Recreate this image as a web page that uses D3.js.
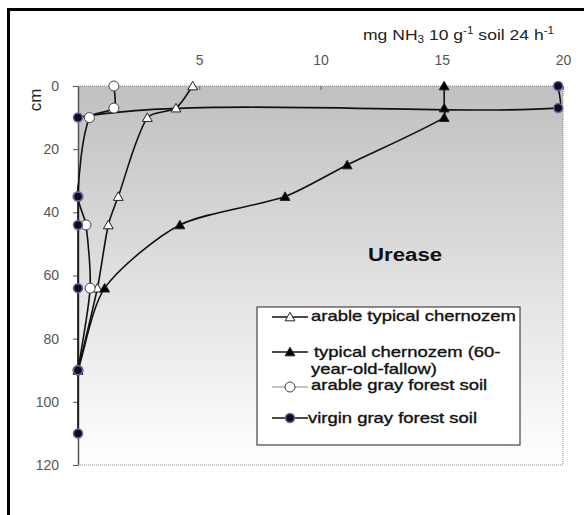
<!DOCTYPE html>
<html>
<head>
<meta charset="utf-8">
<script src="https://cdn.jsdelivr.net/npm/d3@7"></script>
<style>
  body { margin: 0; background: #fff; }
  svg text { font-family: Arial, "Liberation Sans", sans-serif; }
</style>
</head>
<body>
<div id="chart"></div>
<script>
// values (x = mg NH3, y = depth in cm)
const arableChernozemDepth = [0, 7, 10, 35, 44, 64, 90]
const arableChernozem = [4.73, 4.04, 2.86, 1.66, 1.25, 0.8, 0]
const fallowChernozemDepth = [0, 7, 10, 25, 35, 44, 64, 90]
const fallowChernozem = [15.1, 15.1, 15.1, 11.1, 8.54, 4.2, 1.1, 0]
const arableGrayDepth = [0, 7, 10, 35, 44, 64, 90]
const arableGray = [1.48, 1.48, 0.47, 0, 0.33, 0.5, 0]
const virginGrayDepth = [0, 7, 10, 35, 44, 64, 90, 110]
const virginGray = [19.8, 19.8, 0, 0, 0, 0, 0, 0]

const xTicks = [5, 10, 15, 20]
const yTicks = [0, 20, 40, 60, 80, 100, 120]
const legendNames = ["arable typical chernozem", " typical chernozem (60-", "arable gray forest soil", "virgin gray forest soil"]

const width = 586, height = 515
const plotLeft = 78, plotRight = 563, plotTop = 86, plotBottom = 465
const sx = 1.17 // the source picture is stretched sideways

const x = d3.scaleLinear().domain([0, 20]).range([plotLeft, plotRight])
const y = d3.scaleLinear().domain([0, 120]).range([plotTop, plotBottom])

const svg = d3.select("#chart").append("svg")
  .attr("width", width)
  .attr("height", height)

const defs = svg.append("defs")
const grad = defs.append("linearGradient")
  .attr("id", "bg").attr("x1", 0).attr("y1", 0).attr("x2", 0).attr("y2", 1)
grad.append("stop").attr("offset", "0%").attr("stop-color", "#c0c0c0")
grad.append("stop").attr("offset", "100%").attr("stop-color", "#ffffff")
defs.append("clipPath").attr("id", "plotClip")
  .append("rect")
  .attr("x", plotLeft - 1).attr("y", plotTop - 10)
  .attr("width", plotRight - plotLeft + 12).attr("height", plotBottom - plotTop + 20)

svg.append("rect")
  .attr("x", plotLeft).attr("y", plotTop)
  .attr("width", plotRight - plotLeft).attr("height", plotBottom - plotTop)
  .attr("fill", "url(#bg)")

// dotted frame on top, right and bottom
svg.append("path")
  .attr("d", `M${plotLeft},${plotTop}H${plotRight}V${plotBottom}H${plotLeft}`)
  .attr("fill", "none")
  .attr("stroke", "#8c8c8c")
  .attr("stroke-dasharray", "1,1")

// outer border (only top and left are visible)
svg.append("path")
  .attr("d", "M8.5,515V9.5H584")
  .attr("fill", "none")
  .attr("stroke", "#000")
  .attr("stroke-width", 3)

const xAxis = d3.axisTop(x)
  .tickValues(xTicks)
  .tickSizeInner(-4)
  .tickSizeOuter(0)
  .tickPadding(21)
const gx = svg.append("g")
  .attr("transform", "translate(0," + plotTop + ")")
  .call(xAxis)
gx.select(".domain").remove()
gx.selectAll("line").attr("stroke", "#666")
gx.selectAll("text").attr("font-size", 14).attr("fill", "#555").attr("font-family", null)

const yAxis = d3.axisLeft(y)
  .tickValues(yTicks)
  .tickSizeInner(5)
  .tickSizeOuter(0)
  .tickPadding(14)
const gy = svg.append("g")
  .attr("transform", "translate(" + plotLeft + ",0)")
  .call(yAxis)
gy.select(".domain").attr("stroke", "#555").attr("stroke-width", 1.5)
gy.selectAll("line").attr("stroke", "#555")
gy.selectAll("text").attr("font-size", 14).attr("fill", "#555").attr("font-family", null)

// axis titles
const title = svg.append("text")
  .attr("transform", `translate(363,39.5) scale(${sx},1)`)
  .attr("font-size", 15)
  .attr("fill", "#222")
title.append("tspan").text("mg  NH")
title.append("tspan").attr("font-size", 10).attr("dy", 3).text("3")
title.append("tspan").attr("dy", -3).text(" 10 g")
title.append("tspan").attr("font-size", 10).attr("dy", -6).text("-1")
title.append("tspan").attr("dy", 6).text(" soil 24 h")
title.append("tspan").attr("font-size", 10).attr("dy", -6).text("-1")

svg.append("text")
  .attr("transform", "translate(41,100) rotate(-90)")
  .attr("text-anchor", "middle")
  .attr("font-size", 17)
  .attr("fill", "#222")
  .text("cm")

svg.append("text")
  .attr("transform", `translate(368,261) scale(${sx},1)`)
  .attr("font-size", 19)
  .attr("font-weight", "bold")
  .attr("fill", "#111")
  .text("Urease")

// series
const series = [
  { depth: arableChernozemDepth, vals: arableChernozem, marker: "openTri" },
  { depth: fallowChernozemDepth, vals: fallowChernozem, marker: "tri" },
  { depth: arableGrayDepth, vals: arableGray, marker: "openCircle" },
  { depth: virginGrayDepth, vals: virginGray, marker: "dot" }
]

// spreadsheet-style smoothing: tangent along the neighbours, handles scaled by segment length
function smoothPath(pts) {
  const n = pts.length
  const tan = pts.map((p, i) => {
    const a = pts[Math.max(i - 1, 0)], b = pts[Math.min(i + 1, n - 1)]
    const dx = b[0] - a[0], dy = b[1] - a[1]
    const l = Math.hypot(dx, dy) || 1
    return [dx / l, dy / l]
  })
  const p = d3.path()
  p.moveTo(pts[0][0], pts[0][1])
  for (let i = 0; i < n - 1; i++) {
    const a = pts[i], b = pts[i + 1]
    const h = Math.hypot(b[0] - a[0], b[1] - a[1]) / 4
    p.bezierCurveTo(a[0] + tan[i][0] * h, a[1] + tan[i][1] * h,
      b[0] - tan[i + 1][0] * h, b[1] - tan[i + 1][1] * h, b[0], b[1])
  }
  return p.toString()
}

const tri = d3.symbol(d3.symbolTriangle, 42)

function drawMarker(g, kind, px, py) {
  if (kind === "openTri" || kind === "tri") {
    g.append("path")
      .attr("d", tri())
      .attr("transform", `translate(${px},${py + 1})`)
      .attr("fill", kind === "tri" ? "#000" : "#fff")
      .attr("stroke", "#222")
      .attr("stroke-width", 1)
  } else if (kind === "openCircle") {
    g.append("circle")
      .attr("cx", px).attr("cy", py).attr("r", 5)
      .attr("fill", "#fff")
      .attr("stroke", "#444")
      .attr("stroke-width", 1)
  } else {
    g.append("circle")
      .attr("cx", px).attr("cy", py).attr("r", 4.5)
      .attr("fill", "#140a1e")
      .attr("stroke", "#7b62a6")
      .attr("stroke-width", 1.5)
  }
}

const lines = svg.append("g").attr("clip-path", "url(#plotClip)")
series.forEach(s => {
  const pts = s.vals.map((v, i) => [x(v), y(s.depth[i])])
  lines.append("path")
    .attr("d", smoothPath(pts))
    .attr("fill", "none")
    .attr("stroke", "#111")
    .attr("stroke-width", 1.6)
})
series.forEach(s => {
  const g = svg.append("g")
  s.vals.forEach((v, i) => drawMarker(g, s.marker, x(v), y(s.depth[i])))
})

// legend
const leg = svg.append("g")
leg.append("rect")
  .attr("x", 257).attr("y", 307)
  .attr("width", 263).attr("height", 138)
  .attr("fill", "#fff")
  .attr("stroke", "#444")
  .attr("stroke-width", 1.2)

const legRows = [
  { y: 317, text: legendNames[0], tx: 311, ty: 321, color: "#111", w: 1.6 },
  { y: 352, text: legendNames[1], tx: 314, ty: 357, color: "#111", w: 1.6 },
  { y: 387, text: legendNames[2], tx: 311, ty: 389.5, color: "#888", w: 1 },
  { y: 418, text: legendNames[3], tx: 308, ty: 423, color: "#111", w: 1.6 }
]
function legText(tx, ty, str) {
  leg.append("text")
    .attr("transform", `translate(${tx},${ty}) scale(1.23,1)`)
    .attr("font-size", 15)
    .attr("fill", "#111")
    .attr("stroke", "#111")
    .attr("stroke-width", 0.35)
    .text(str)
}
legRows.forEach((r, i) => {
  leg.append("line")
    .attr("x1", 272).attr("x2", 308)
    .attr("y1", r.y).attr("y2", r.y)
    .attr("stroke", r.color)
    .attr("stroke-width", r.w)
  drawMarker(leg, series[i].marker, 290, r.y)
  legText(r.tx, r.ty, r.text)
})
legText(311, 374, "year-old-fallow)")
</script>
</body>
</html>
